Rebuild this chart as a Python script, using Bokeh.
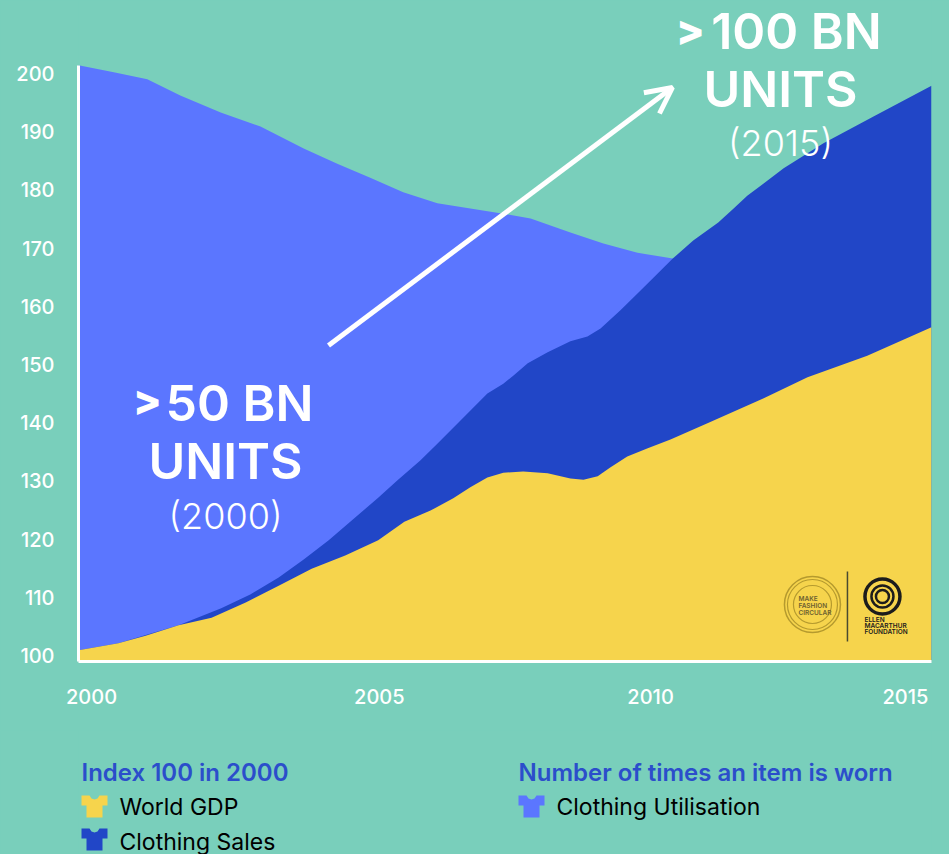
from bokeh.plotting import figure
from bokeh.embed import file_html
from bokeh.resources import INLINE
from bokeh.layouts import column
from bokeh.models import Label, Arrow, OpenHead, FixedTicker, Range1d
from bokeh.core.properties import value

# ---- data ----
util_years = [2000, 2000.62, 2001.21, 2001.79, 2002.50, 2003.20, 2003.96, 2004.55, 2005.13, 2005.71,
              2006.31, 2006.89, 2007.47, 2007.95, 2008.65, 2009.23, 2009.83, 2010.45, 2010.94]
util_vals = [201.4, 200.2, 199.0, 196.2, 193.3, 190.9, 187.1, 184.5, 182.1, 179.6,
             177.7, 176.8, 175.9, 175.1, 172.7, 170.8, 169.2, 168.2, 167.5]
sales_years = [2000, 2000.70, 2001.27, 2001.76, 2002.51, 2003.02, 2003.52, 2003.96, 2004.40, 2004.84,
               2005.27, 2005.61, 2006.01, 2006.31, 2006.77, 2007.19, 2007.47, 2007.65, 2007.90, 2008.25,
               2008.65, 2008.95, 2009.18, 2009.53, 2009.83, 2010.11, 2010.45, 2010.81, 2011.25, 2011.52,
               2011.76, 2012.40, 2013.10, 2013.98, 2015]
sales_vals = [100.9, 102.1, 103.8, 105.2, 108.1, 110.5, 113.4, 116.5, 119.8, 123.5,
              127.1, 130.1, 133.5, 136.4, 140.9, 145.0, 146.7, 148.1, 150.2, 152.1,
              154.0, 154.8, 156.2, 159.3, 162.2, 164.9, 168.2, 171.3, 174.4, 176.8,
              179.0, 183.7, 188.0, 192.6, 197.9]
gdp_years = [2000, 2000.70, 2001.18, 2001.76, 2002.34, 2002.94, 2003.52, 2004.10, 2004.69, 2005.27,
             2005.73, 2006.19, 2006.59, 2006.89, 2007.19, 2007.47, 2007.82, 2008.25, 2008.65, 2008.88,
             2009.13, 2009.35, 2009.65, 2010.01, 2010.41, 2011.06, 2012.05, 2012.82, 2013.87, 2015]
gdp_vals = [100.9, 102.1, 103.4, 105.2, 106.5, 109.1, 112.0, 114.9, 117.2, 119.8,
            123.0, 124.9, 127.0, 128.9, 130.6, 131.4, 131.6, 131.3, 130.4, 130.2,
            130.8, 132.3, 134.2, 135.6, 137.1, 139.9, 144.2, 147.8, 151.5, 156.4]
y_ticks = [100, 110, 120, 130, 140, 150, 160, 170, 180, 190, 200]
x_tick_pos = [2000.23, 2005.29, 2010.06, 2014.54]
x_tick_labels = ["2000", "2005", "2010", "2015"]

BG = "#79cfbb"; UTIL = "#5b76ff"; SALES = "#2146c7"; GDP = "#f6d44c"; TITLE = "#2b4ecb"
FONT = "Inter Medium"; FONT_REG = "Inter"; FONT_SB = "Inter SemiBold"; FONT_LT = "Inter Light"

TOP_H = 730

# page pixel -> data helpers, for annotations
def X(px): return 2000 + (px - 78) / 56.87
def Y(py): return 100 + (655 - py) / 5.82
BASE = Y(661)

p = figure(width=949, height=TOP_H, output_backend="svg", toolbar_location=None,
           x_range=Range1d(2000, 2015), y_range=Range1d(BASE, Y(0)),
           min_border_left=78, min_border_right=18, min_border_top=0, min_border_bottom=TOP_H - 661,
           background_fill_color=BG, border_fill_color=BG, outline_line_color=None)
p.grid.visible = False

p.varea(util_years, y1=[BASE] * len(util_years), y2=util_vals, fill_color=UTIL)
p.varea(sales_years, y1=[BASE] * len(sales_years), y2=sales_vals, fill_color=SALES)
p.varea(gdp_years, y1=[BASE] * len(gdp_years), y2=gdp_vals, fill_color=GDP)

for ax in (p.xaxis[0], p.yaxis[0]):
    ax.axis_line_color = "white"; ax.axis_line_width = 3
    ax.major_tick_line_color = None; ax.minor_tick_line_color = None
    ax.major_label_text_color = "white"; ax.major_label_text_font = FONT
    ax.major_label_text_font_size = "20px"
p.xaxis[0].ticker = FixedTicker(ticks=x_tick_pos)
p.xaxis[0].major_label_overrides = dict(zip(x_tick_pos, x_tick_labels))
p.xaxis[0].bounds = (2000, 2015)
p.xaxis[0].major_label_standoff = 21
p.yaxis[0].ticker = FixedTicker(ticks=y_ticks)
p.yaxis[0].bounds = (BASE, 201.4)
p.yaxis[0].major_label_standoff = 18

# arrow
p.add_layout(Arrow(x_start=X(328), y_start=Y(345), x_end=X(672), y_end=Y(87), line_color="white", line_width=5,
                   end=OpenHead(line_color="white", line_width=5, size=26)))

def label(text, px, py, size, color="white", align="center", font=FONT):
    p.add_layout(Label(x=X(px), y=Y(py), text=text, text_color=color, text_align=align, text_baseline="middle",
                       text_font=font, text_font_size=f"{size}px"))

label(">", 690, 29, 42, font="Inter ExtraBold")
label("100 BN", 796, 30, 50, font=FONT_SB)
label("UNITS", 780, 88, 50, font=FONT_SB)
label("(2015)", 780, 142, 36, font=FONT_LT)
label(">", 147, 399, 42, font="Inter ExtraBold")
label("50 BN", 239, 402, 50, font=FONT_SB)
label("UNITS", 225, 460, 50, font=FONT_SB)
label("(2000)", 225, 515, 36, font=FONT_LT)

# logos
LOGO1 = "#b59a2e"
for size, lw in [(56, 1.5), (50, 1.2), (38, 1.2)]:
    p.scatter([X(812)], [Y(604)], size=size, marker="circle", fill_color=None, line_color=LOGO1, line_width=lw)
p.line([X(847), X(847)], [Y(571), Y(641)], line_color="#4a4a30", line_width=1.5)
for size, lw in [(35, 3.5), (22, 2.5), (13, 2.5)]:
    p.scatter([X(882)], [Y(596)], size=size, marker="circle", fill_color=None, line_color="#1c1c1c", line_width=lw)
for i, t in enumerate(["MAKE", "FASHION", "CIRCULAR"]):
    label(t, 798, 598 + i * 7, 6.5, "#6d6030", "left", FONT_SB)
for i, t in enumerate(["ELLEN", "MACARTHUR", "FOUNDATION"]):
    label(t, 864, 619 + i * 6, 6.5, "#1c1c1c", "left", FONT_SB)

# legend strip: the column lines its frame up with the chart's frame (78..931), so its x scale is in page pixels there
q = figure(width=949, height=854 - TOP_H, output_backend="svg", toolbar_location=None,
           x_range=Range1d(78, 931), y_range=Range1d(854, TOP_H),
           min_border_left=0, min_border_right=0, min_border_top=0, min_border_bottom=0,
           background_fill_color=BG, border_fill_color=BG, outline_line_color=None,
           x_axis_location=None, y_axis_location=None)
q.grid.visible = False
q.axis.visible = False

legend_text = ["Index 100 in 2000", "Number of times an item is worn", "World GDP", "Clothing Sales", "Clothing Utilisation"]
legend_x = [81, 518, 119, 119, 556]
legend_y = [772, 772, 806, 841, 806]
legend_col = [TITLE, TITLE, "black", "black", "black"]
legend_font = [FONT_SB, FONT_SB, FONT_REG, FONT_REG, FONT_REG]
legend_size = ["24px", "24px", "23px", "23px", "23px"]
for t, lx, ly, c, f, s in zip(legend_text, legend_x, legend_y, legend_col, legend_font, legend_size):
    q.text([lx], [ly], text=[t], text_color=c, text_baseline="middle", text_align="left",
           text_font=value(f), text_font_size=s)

shirt_x = [0, 8, 10, 13, 16, 18, 26, 26, 21, 21, 5, 5, 0]
shirt_y = [0, 0, 3, 4, 3, 0, 0, 10, 10, 22, 22, 10, 10]
for sx, sy, c in [(81, 795, GDP), (81, 828, SALES), (518, 795, UTIL)]:
    q.patch([sx + s for s in shirt_x], [sy + s for s in shirt_y], fill_color=c, line_color=None)

page = column(p, q, spacing=0)
html = file_html(page, INLINE)
html = html.replace("</head>", "<style>html,body{background:%s;overflow:hidden;margin:0}</style></head>" % BG, 1)
open("out.html", "w").write(html)
